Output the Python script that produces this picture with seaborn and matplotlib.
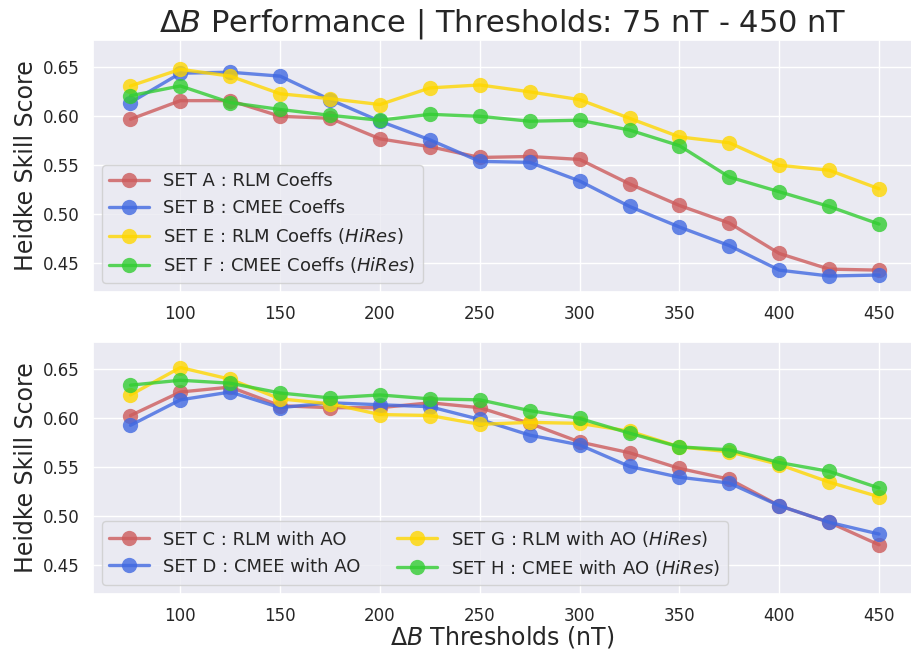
import numpy as np
import pandas as pd
import matplotlib
matplotlib.use("Agg")
import matplotlib.pyplot as plt
import seaborn as sns

THRESHOLDS = [75, 100, 125, 150, 175, 200, 225, 250, 275, 300,
              325, 350, 375, 400, 425, 450]

# top panel: coefficient sets
SET_A = [0.597, 0.616, 0.616, 0.600, 0.598, 0.577, 0.569, 0.558,
         0.559, 0.556, 0.531, 0.509, 0.491, 0.460, 0.444, 0.443]
SET_B = [0.614, 0.644, 0.645, 0.641, 0.617, 0.595, 0.576, 0.554,
         0.553, 0.534, 0.508, 0.487, 0.468, 0.443, 0.437, 0.438]
SET_E = [0.631, 0.648, 0.641, 0.623, 0.618, 0.612, 0.629, 0.632,
         0.625, 0.617, 0.598, 0.579, 0.573, 0.550, 0.545, 0.526]
SET_F = [0.621, 0.631, 0.614, 0.607, 0.601, 0.596, 0.602, 0.600,
         0.595, 0.596, 0.586, 0.570, 0.538, 0.523, 0.508, 0.490]

# bottom panel: sets with AO
SET_C = [0.603, 0.627, 0.632, 0.613, 0.611, 0.611, 0.616, 0.611,
         0.595, 0.576, 0.565, 0.549, 0.538, 0.511, 0.494, 0.471]
SET_D = [0.593, 0.619, 0.627, 0.611, 0.616, 0.614, 0.612, 0.599,
         0.583, 0.573, 0.551, 0.540, 0.534, 0.511, 0.494, 0.482]
SET_G = [0.624, 0.652, 0.640, 0.620, 0.615, 0.604, 0.603, 0.594,
         0.596, 0.595, 0.587, 0.571, 0.566, 0.553, 0.535, 0.520]
SET_H = [0.634, 0.639, 0.636, 0.626, 0.621, 0.624, 0.620, 0.619,
         0.608, 0.600, 0.585, 0.571, 0.568, 0.555, 0.546, 0.529]

HIRES = r"($\it{HiRes}$)"
TOP_SERIES = [
    ("SET A : RLM Coeffs", SET_A, "indianred"),
    ("SET B : CMEE Coeffs", SET_B, "royalblue"),
    ("SET E : RLM Coeffs " + HIRES, SET_E, "gold"),
    ("SET F : CMEE Coeffs " + HIRES, SET_F, "limegreen"),
]
BOTTOM_SERIES = [
    ("SET C : RLM with AO", SET_C, "indianred"),
    ("SET D : CMEE with AO", SET_D, "royalblue"),
    ("SET G : RLM with AO " + HIRES, SET_G, "gold"),
    ("SET H : CMEE with AO " + HIRES, SET_H, "limegreen"),
]

sns.set_theme(style="darkgrid")
plt.rcParams["font.family"] = ["DejaVu Sans"]

fig, (ax1, ax2) = plt.subplots(2, 1, figsize=(9.12, 6.54), dpi=100)
fig.subplots_adjust(left=0.102, right=1.0, top=0.939, bottom=0.092,
                    hspace=0.2)


def draw(ax, series):
    for label, vals, col in series:
        df = pd.DataFrame({"x": THRESHOLDS, "y": vals})
        sns.lineplot(data=df, x="x", y="y", ax=ax, color=col, label=label,
                     marker="o", markersize=11, linewidth=2.4, alpha=0.8,
                     markeredgecolor=col, markeredgewidth=0)
    ax.set_ylim(0.421, 0.678)
    ax.set_xlim(56.25, 466.5)
    ax.set_xticks(range(100, 451, 50))
    ax.set_yticks([0.45, 0.50, 0.55, 0.60, 0.65])
    ax.tick_params(labelsize=12)
    ax.set_ylabel("Heidke Skill Score", fontsize=17)
    ax.set_xlabel("")


draw(ax1, TOP_SERIES)
draw(ax2, BOTTOM_SERIES)

ax1.legend(loc="lower left", fontsize=13, handlelength=2.2)
ax2.legend(loc="lower left", fontsize=13, ncol=2, handlelength=2.2)
ax2.set_xlabel(r"$\Delta B$ Thresholds (nT)", fontsize=17, labelpad=-1)
ax1.set_title(r"$\Delta B$ Performance | Thresholds: 75 nT - 450 nT",
              fontsize=22)

fig.savefig("out.png", dpi=100)
